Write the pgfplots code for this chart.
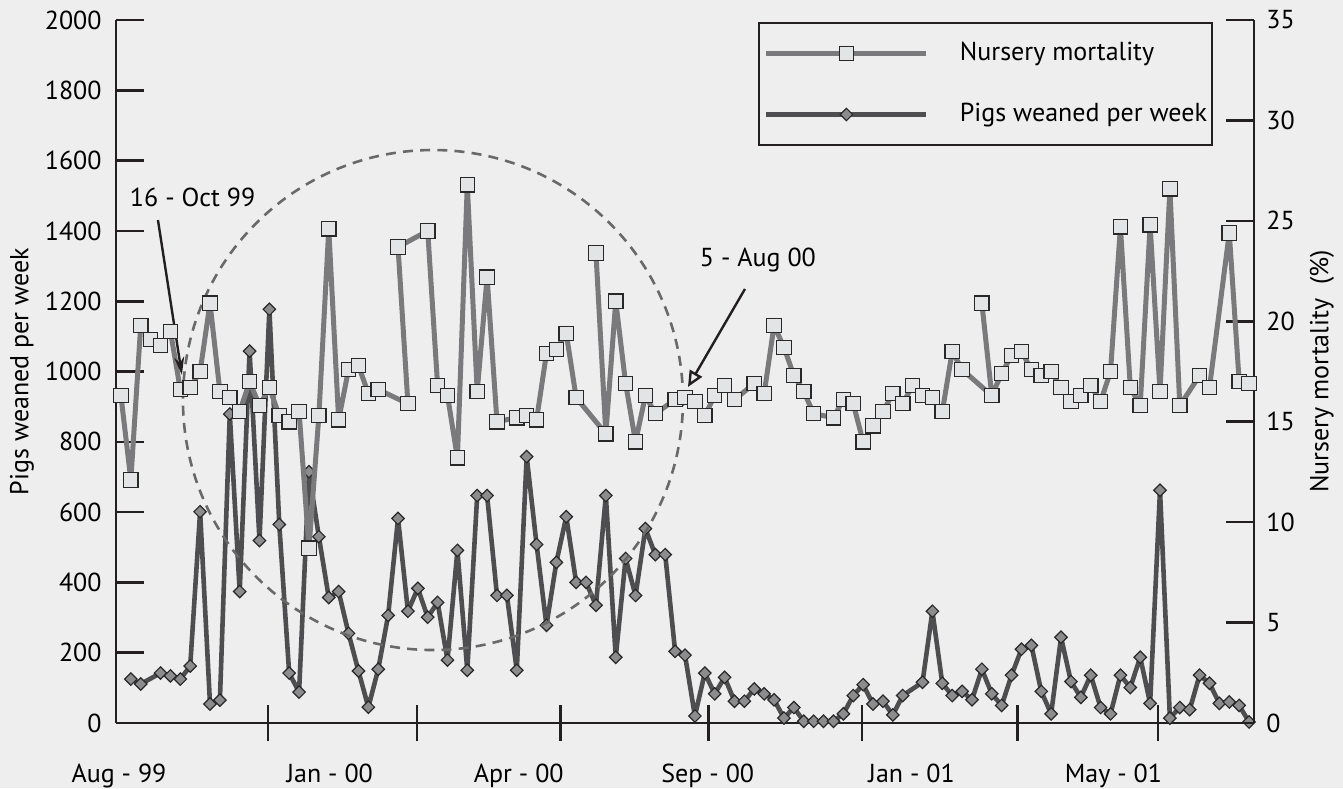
\documentclass[border=0pt]{standalone}
\usepackage{fontspec}
\setmainfont{PT Sans}
\usepackage{pgfplots}
\pgfplotsset{compat=1.18}
\usetikzlibrary{arrows.meta,backgrounds}

\definecolor{bg}{RGB}{238,238,238}
\definecolor{axc}{RGB}{35,31,32}
\definecolor{mortline}{RGB}{122,122,124}
\definecolor{mortfill}{RGB}{227,228,230}
\definecolor{pigline}{RGB}{78,78,80}
\definecolor{pigfill}{RGB}{140,140,142}
\definecolor{mk}{RGB}{40,40,40}
\definecolor{circ}{RGB}{105,105,105}

\pgfplotsset{
  mortstyle/.style={color=mortline, line width=2.5pt, line join=round, mark=square*, mark size=3.6pt,
    mark options={fill=mortfill, draw=mk, line width=0.6pt, solid, line join=miter}},
  pigstyle/.style={color=pigline, line width=2.3pt, line join=round, mark=square*, mark size=2.2pt,
    mark options={rotate=45, fill=pigfill, draw=mk, line width=0.6pt, solid, line join=miter}},
  common/.style={scale only axis, width=569pt, height=351.5pt, xmin=-0.5, xmax=114.5,
    clip=false,
    tick label style={font=\fontsize{13}{15}\selectfont},
    /pgf/number format/assume math mode=true, /pgf/number format/1000 sep={},
    axis line style={color=axc, line width=1.3pt},
    tick style={color=axc, line width=1.3pt},
    legend image code/.code={\draw[mark repeat=2,mark phase=2] plot coordinates {(0pt,0pt) (40pt,0pt) (80pt,0pt)}; \path (95.5pt,0pt);}
  }
}

\begin{document}
\begin{tikzpicture}[font=\fontsize{13}{15}\selectfont]
% x axis
\begin{axis}[common, name=ax, ymin=0, ymax=2000,
  axis x line*=bottom, axis y line=none,
  xtick={14.86,29.9,44.4,59.4,74.9,90.6,104.8}, xticklabels={},
  xtick align=center, major tick length=18pt]
\addplot[draw=none] coordinates {(0,0)};
\node[anchor=base] at (axis cs:-0.2,0) [yshift=-29.5pt] {Aug - 99};
\node[anchor=base] at (axis cs:21.1,0) [yshift=-29.5pt] {Jan - 00};
\node[anchor=base] at (axis cs:40.2,0) [yshift=-29.5pt] {Apr - 00};
\node[anchor=base] at (axis cs:59.3,0) [yshift=-29.5pt] {Sep - 00};
\node[anchor=base] at (axis cs:79.9,0) [yshift=-29.5pt] {Jan - 01};
\node[anchor=base] at (axis cs:100.3,0) [yshift=-29.5pt] {May - 01};
\end{axis}
% left axis: pigs weaned
\begin{axis}[common, ymin=0, ymax=2000,
  axis x line=none, axis y line*=left,
  ytick={0,200,...,2000}, tick align=inside, major tick length=14pt,
  yticklabel style={xshift=-3.7pt}]
\addplot[pigstyle] coordinates {
(1,125) (2,111) (4,142) (5,134) (6,125) (7,162) (8,601) (9,54) (10,65) (11,879)
(12,374) (13,1058) (14,519) (15,1177) (16,565) (17,142) (18,88) (19,715) (20,530)
(21,357) (22,374) (23,255) (24,148) (25,45) (26,153) (27,306) (28,582) (29,318)
(30,383) (31,301) (32,343) (33,179) (34,491) (35,150) (36,647) (37,647) (38,363)
(39,363) (40,150) (41,758) (42,508) (43,278) (44,457) (45,587) (46,400) (47,400)
(48,335) (49,647) (50,187) (51,468) (52,363) (53,553) (54,479) (55,479) (56,204)
(57,193) (58,20) (59,142) (60,83) (61,130) (62,62) (63,62) (64,97) (65,83) (66,66)
(67,14) (68,44) (69,5) (70,5) (71,5) (72,5) (73,26) (74,78) (75,109) (76,54) (77,62)
(78,23) (79,78) (81,116) (82,318) (83,113) (84,78) (85,90) (86,66) (87,153) (88,83)
(89,50) (90,136) (91,210) (92,221) (93,90) (94,26) (95,244) (96,118) (97,73) (98,136)
(99,44) (100,26) (101,136) (102,101) (103,187) (104,56) (105,662) (106,14) (107,44)
(108,38) (109,136) (110,113) (111,56) (112,60) (113,50) (114,3)
};
\end{axis}
% right axis: nursery mortality
\begin{axis}[common, ymin=0, ymax=35,
  axis x line=none, axis y line*=right,
  ytick={0,5,...,35}, tick align=inside, major tick length=14pt,
  yticklabel style={xshift=2.7pt},
  legend style={at={(1,1)}, anchor=north east, xshift=-20.5pt, yshift=-1pt,
    draw=axc, line width=1pt, fill=bg, inner xsep=2.5pt, inner ysep=9pt,
    row sep=18pt, font=\fontsize{13}{15}\selectfont,
    nodes={inner sep=0pt, text height=9.5pt, text depth=3pt}},
  legend cell align=left]
\addplot[mortstyle] coordinates {
(0,16.3) (1,12.1) (2,19.8) (3,19.1) (4,18.8) (5,19.5) (6,16.6) (7,16.7) (8,17.5)
(9,20.9) (10,16.5) (11,16.2) (12,15.5) (13,17.0) (14,15.8) (15,16.7) (16,15.3)
(17,15.0) (18,15.5) (19,8.7) (20,15.3) (21,24.6) (22,15.1) (23,17.6) (24,17.8)
(25,16.4) (26,16.6) (29,15.9) (28,23.7) (31,24.5) (32,16.8) (33,16.3) (34,13.2)
(35,26.8) (36,16.5) (37,22.2) (38,15.0) (40,15.2) (41,15.3) (42,15.1) (43,18.4)
(44,18.6) (45,19.4) (46,16.2) (49,14.4) (48,23.4) (49,14.4) (50,21.0) (51,16.9)
(52,14.0) (53,16.3) (54,15.4) (56,16.1) (57,16.2) (58,16.0) (59,15.3) (60,16.3)
(61,16.8) (62,16.1) (64,16.9) (65,16.4) (66,19.8) (67,18.7) (68,17.3) (69,16.5)
(70,15.4) (72,15.2) (73,16.1) (74,15.9) (75,14.0) (76,14.8) (77,15.5) (78,16.4)
(79,15.9) (80,16.8) (81,16.3) (82,16.2) (83,15.5) (84,18.5) (85,17.6) (88,16.3)
(87,20.9) (88,16.3) (89,17.4) (90,18.3) (91,18.5) (92,17.6) (93,17.3) (94,17.5)
(95,16.7) (96,16.0) (97,16.3) (98,16.8) (99,16.0) (100,17.5) (101,24.7) (102,16.7)
(103,15.8) (104,24.8) (105,16.5) (106,26.6) (107,15.8) (109,17.3) (110,16.7)
(112,24.4) (113,17.0) (114,16.9)
};
\addlegendentry{Nursery mortality}
\addlegendimage{pigstyle}
\addlegendentry{Pigs weaned per week}
% annotations
\draw[circ, line width=1.3pt, dash pattern=on 5pt off 3.6pt] (axis cs:31.53,16.08) circle[radius=125pt];
\node[anchor=west] at (axis cs:0.2,26.15) {16 - Oct 99};
\draw[axc, line width=1.2pt, -{Stealth[length=9pt,width=5pt]}] (axis cs:3.74,25.04) -- (axis cs:6.16,17.33);
\node[anchor=west] at (axis cs:57.8,23.05) {5 - Aug 00};
\draw[axc, line width=1.2pt, -{Triangle[open,length=8pt,width=7pt]}] (axis cs:63.06,21.61) -- (axis cs:57.3,16.73);
\end{axis}
\node[rotate=90] at ([xshift=-47pt]ax.west) {Pigs weaned per week};
\node[rotate=90] at ([xshift=34pt]ax.east) {Nursery mortality\ \ (\%)};
\begin{scope}[on background layer]
\fill[bg] ([xshift=-58pt,yshift=-32.5pt]ax.south west) rectangle ([xshift=44.5pt,yshift=10pt]ax.north east);
\end{scope}
\pgfresetboundingbox
\path[use as bounding box] ([xshift=-58pt,yshift=-32.5pt]ax.south west) rectangle ([xshift=44.5pt,yshift=10pt]ax.north east);
\end{tikzpicture}
\end{document}
